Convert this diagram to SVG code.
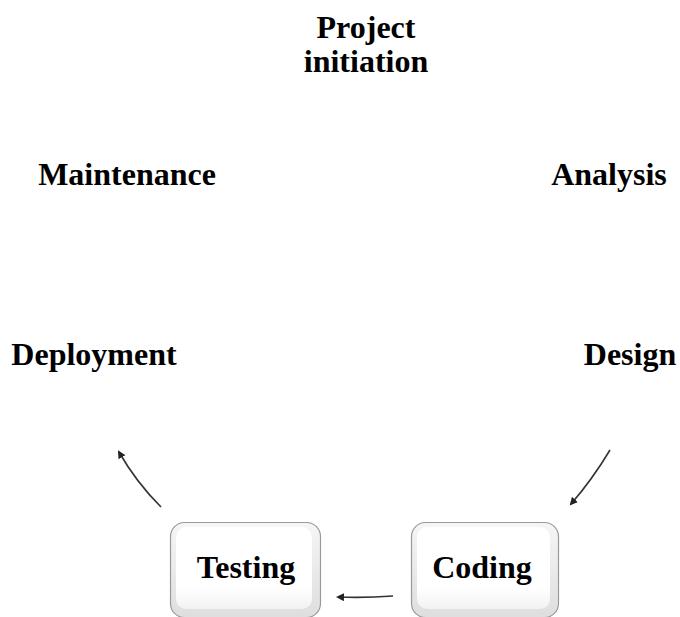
<svg xmlns="http://www.w3.org/2000/svg" width="680" height="617" viewBox="0 0 680 617">
<style>
.lbl{font-family:"Liberation Serif","Times New Roman",serif;font-weight:bold;font-size:32px;fill:#000;text-anchor:middle}
.conn{fill:none;stroke:#333;stroke-width:1.6}
</style>
<defs>
<linearGradient id="outer" x1="0" y1="0" x2="0" y2="1">
<stop offset="0" stop-color="#f6f6f6"/>
<stop offset="1" stop-color="#dedede"/>
</linearGradient>
<linearGradient id="face" x1="0" y1="0" x2="0" y2="1">
<stop offset="0" stop-color="#ffffff"/>
<stop offset="0.75" stop-color="#ffffff"/>
<stop offset="1" stop-color="#f2f2f2"/>
</linearGradient>
<marker id="ah" markerWidth="8" markerHeight="8" refX="6" refY="4" orient="auto" markerUnits="userSpaceOnUse">
<path d="M0,0 L8,4 L0,8 z" fill="#222"/>
</marker>
</defs>
<g id="project-initiation">
<text class="lbl" x="366" y="38">Project</text>
<text class="lbl" x="366" y="72">initiation</text>
</g>
<g id="analysis"><text class="lbl" x="609" y="185">Analysis</text></g>
<g id="maintenance"><text class="lbl" x="127" y="185">Maintenance</text></g>
<g id="deployment"><text class="lbl" x="94" y="365">Deployment</text></g>
<g id="design"><text class="lbl" x="630" y="365">Design</text></g>
<g id="testing">
<rect x="170.5" y="522.5" width="150" height="95" rx="14" fill="url(#outer)" stroke="#9a9a9a" stroke-width="1.2"/>
<rect x="176" y="527" width="136" height="82" rx="10" fill="url(#face)"/>
<text class="lbl" x="246" y="578">Testing</text>
</g>
<g id="coding">
<rect x="411.5" y="522.5" width="147" height="95" rx="14" fill="url(#outer)" stroke="#9a9a9a" stroke-width="1.2"/>
<rect x="417" y="527" width="133" height="82" rx="10" fill="url(#face)"/>
<text class="lbl" x="482" y="578">Coding</text>
</g>
<g id="connectors">
<path class="conn" d="M610,450 Q592,480 571,504" marker-end="url(#ah)"/>
<path class="conn" d="M393,596 Q365,598 338,597" marker-end="url(#ah)"/>
<path class="conn" d="M161,507 Q136,482 119,452" marker-end="url(#ah)"/>
</g>
</svg>
